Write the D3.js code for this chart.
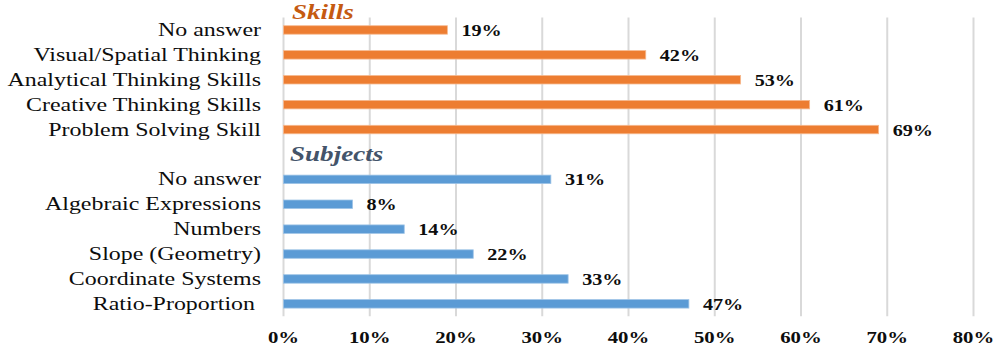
<!DOCTYPE html>
<html>
<head>
<meta charset="utf-8">
<script src="https://cdn.jsdelivr.net/npm/d3@7"></script>
<style>
  html, body { margin: 0; padding: 0; background: #fff; }
  svg { display: block; }
  text { font-family: "Liberation Serif", "Times New Roman", serif; white-space: pre; }
</style>
</head>
<body>
<svg id="chart" width="1006" height="355"></svg>
<script>
// ---- data ----
const skillCategories = ["No answer", "Visual/Spatial Thinking", "Analytical Thinking Skills", "Creative Thinking Skills", "Problem Solving Skill"];
const skillValues = [0.19, 0.42, 0.53, 0.61, 0.69];
const subjectCategories = ["No answer", "Algebraic Expressions", "Numbers", "Slope (Geometry)", "Coordinate Systems", "Ratio-Proportion "];
const subjectValues = [0.31, 0.08, 0.14, 0.22, 0.33, 0.47];
const tickValues = [0, 0.1, 0.2, 0.3, 0.4, 0.5, 0.6, 0.7, 0.8];
const groupTitles = ["Skills", "Subjects"];

// ---- layout ----
const svg = d3.select("#chart");
const X0 = 283.5, X1 = 973.5, Y0 = 17.5, Y1 = 316.3;
const SX = 1.26; // horizontal stretch of the original picture's text

const rows = [];
skillCategories.forEach((c, i) => rows.push({ key: "sk" + i, label: c, value: skillValues[i], group: 0 }));
rows.push({ key: "gap", label: "", value: null, group: -1 });
subjectCategories.forEach((c, i) => rows.push({ key: "su" + i, label: c, value: subjectValues[i], group: 1 }));

const x = d3.scaleLinear().domain([0, 0.8]).range([X0, X1]);
const y = d3.scaleBand().domain(rows.map(d => d.key)).range([Y0, Y1]).paddingInner(0.66).paddingOuter(0.33);
const barColors = ["#ED7D31", "#5B9BD5"];
const edgeColors = ["#F6B98F", "#9DC3E6"];
const titleColors = ["#C55A11", "#44546A"];

// gridlines
svg.append("g").selectAll("line").data(tickValues).join("line")
  .attr("x1", d => x(d)).attr("x2", d => x(d))
  .attr("y1", Y0).attr("y2", Y1)
  .attr("stroke", "#D9D9D9").attr("stroke-width", 2);

// bars
const dataRows = rows.filter(d => d.value !== null);
svg.append("g").selectAll("rect").data(dataRows).join("rect")
  .attr("x", x(0))
  .attr("y", d => y(d.key))
  .attr("width", d => x(d.value) - x(0))
  .attr("height", y.bandwidth())
  .attr("fill", d => barColors[d.group])
  .attr("stroke", d => edgeColors[d.group])
  .attr("stroke-width", 0.8);

const cy = k => y(k) + y.bandwidth() / 2;

// category labels
svg.append("g").selectAll("text").data(dataRows).join("text")
  .attr("transform", d => `translate(${X0 - 22.5},${cy(d.key) + 6}) scale(${SX},1)`)
  .attr("text-anchor", "end")
  .attr("font-size", 19)
  .attr("fill", "#0d0d0d")
  .text(d => d.label);

// value labels
const fmt = d3.format(".0%");
svg.append("g").selectAll("text").data(dataRows).join("text")
  .attr("transform", d => `translate(${x(d.value) + 14},${cy(d.key) + 6}) scale(${SX},1)`)
  .attr("font-size", 16)
  .attr("font-weight", "bold")
  .attr("fill", "#0d0d0d")
  .text(d => fmt(d.value));

// x tick labels
svg.append("g").selectAll("text").data(tickValues).join("text")
  .attr("transform", d => `translate(${x(d)},343) scale(${SX},1)`)
  .attr("text-anchor", "middle")
  .attr("font-size", 16.5)
  .attr("font-weight", "bold")
  .attr("fill", "#0d0d0d")
  .text(d => fmt(d));

// group titles
const titlePos = [{ x: X0 + 8.5, y: 18.5 }, { x: X0 + 6.5, y: cy("gap") + 6.5 }];
svg.append("g").selectAll("text").data(groupTitles).join("text")
  .attr("transform", (d, i) => `translate(${titlePos[i].x},${titlePos[i].y}) scale(${SX},1)`)
  .attr("font-size", 21.5)
  .attr("font-weight", "bold")
  .attr("font-style", "italic")
  .attr("fill", (d, i) => titleColors[i])
  .text(d => d);
</script>
</body>
</html>
